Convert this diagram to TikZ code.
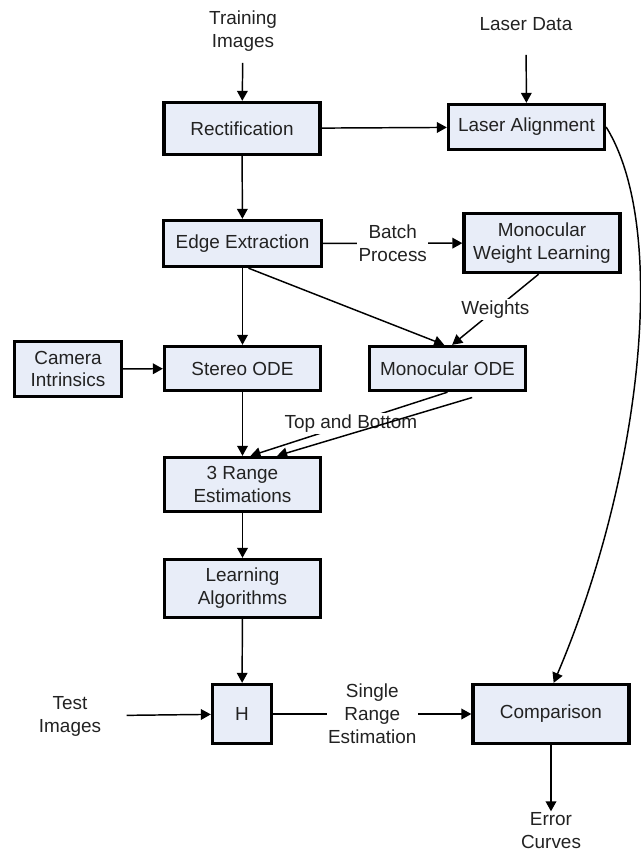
\documentclass[tikz,border=0pt]{standalone}
\usepackage{fontspec}
\setmainfont{Liberation Sans}
\usetikzlibrary{arrows.meta}
\definecolor{boxfill}{RGB}{232,237,248}
\definecolor{txt}{RGB}{34,34,34}
\begin{document}
\begin{tikzpicture}[x=0.75pt,y=-0.75pt]
  \tikzset{box/.style={draw,line width=2.5pt,fill=boxfill,align=center,inner sep=0pt,minimum width=117pt,
      text=txt,font=\fontsize{14.2pt}{17.2pt}\selectfont},
    lbl/.style={align=center,inner sep=1pt,text=txt,font=\fontsize{14.2pt}{17.2pt}\selectfont},
    arr/.style={line width=1.1pt,-{Triangle[length=7.5pt,width=8pt]}}}
  \useasboundingbox (0,0) rectangle (641,851);
  % boxes
  \node[box,minimum height=39pt] (rect) at (242,128.5) {Rectification};
  \node[box,minimum height=33.75pt] (laser) at (526.5,127) {Laser Alignment};
  \node[box,minimum width=118.5pt,minimum height=34.5pt] (edge) at (242.5,243.5) {Edge Extraction};
  \node[box,minimum height=44.25pt] (mwl) at (542,243) {Monocular\\Weight Learning};
  \node[box,minimum width=80.25pt,minimum height=41.25pt] (cam) at (68,369) {Camera\\Intrinsics};
  \node[box,minimum height=33pt] (stereo) at (242.5,368.5) {Stereo ODE};
  \node[box,minimum height=33pt] (mode) at (447.5,368.5) {Monocular ODE};
  \node[box,minimum height=40.5pt] (range) at (242.5,484.5) {3 Range\\Estimations};
  \node[box,minimum height=43.5pt] (learn) at (242.5,588.5) {Learning\\Algorithms};
  \node[box,minimum width=44.25pt,minimum height=44.25pt] (h) at (242,714) {H};
  \node[box,minimum height=44.25pt] (comp) at (551,714) {Comparison};
  % free labels
  \node[lbl] (train) at (243,31) {Training\\Images};
  \node[lbl] (ldata) at (526,24) {Laser Data};
  \node[lbl] (test) at (70,716) {Test\\Images};
  \node[lbl] (error) at (551,831) {Error\\Curves};
  % connectors
  \draw[arr,shorten <=7.5pt] (train) -- (rect);
  \draw[arr,shorten <=17pt] (ldata) -- (laser);
  \draw[arr] (rect) -- (laser);
  \draw[arr] (rect) -- (edge);
  \draw[arr] (edge) -- node[lbl,fill=white] {Batch\\Process} (mwl);
  \draw[arr] ([xshift=4.5pt]edge.south) -- ([xshift=-2.5pt]mode.north);
  \draw[arr] ([xshift=-2.5pt]mwl.south) -- node[lbl,fill=white] {Weights} ([xshift=3.5pt]mode.north);
  \draw[arr] (cam) -- (stereo);
  \draw[arr] (edge) -- (stereo);
  \draw[arr] (stereo) -- (range);
  \draw[arr] (mode.south) -- node[lbl,fill=white,pos=0.49] {Top and Bottom} ([xshift=6pt]range.north);
  \draw[arr] ([xshift=18.5pt,yshift=-4pt]mode.south) -- ([xshift=26pt]range.north);
  \draw[arr] (range) -- (learn);
  \draw[arr] (learn) -- (h);
  \draw[arr,shorten <=18pt] (test) -- (h);
  \draw[arr] (h) -- node[lbl,fill=white] {Single\\Range\\Estimation} (comp);
  \draw[arr] (comp) -- (error);
  \draw[arr] (laser.east) .. controls (670,230) and (640,480) .. ([xshift=2pt]comp.north);
\end{tikzpicture}
\end{document}
